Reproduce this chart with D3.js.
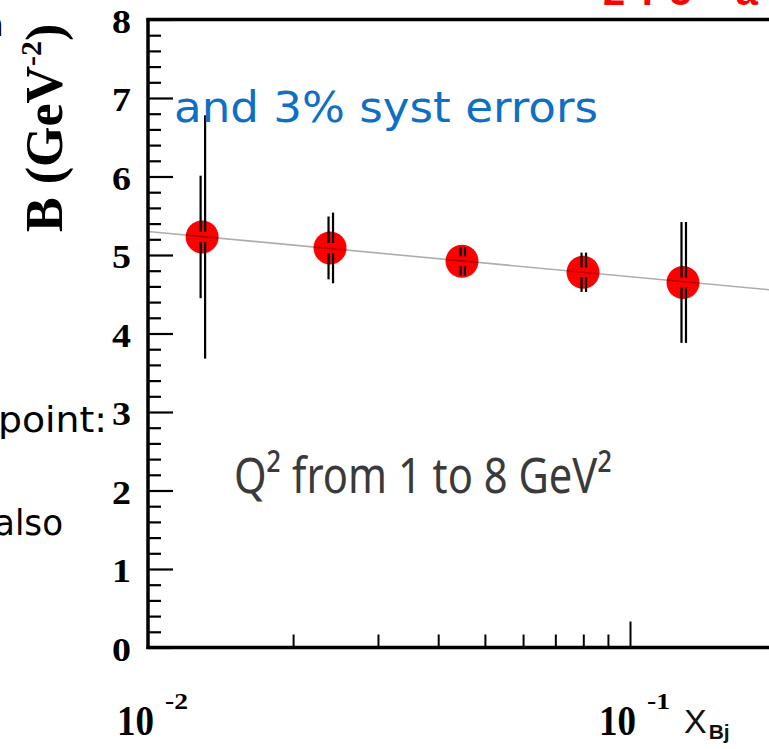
<!DOCTYPE html>
<html>
<head>
<meta charset="utf-8">
<script src="https://cdn.jsdelivr.net/npm/d3@7"></script>
<style>
  html, body { margin: 0; padding: 0; background: #fff; }
  svg { display: block; }
</style>
</head>
<body>
<svg id="chart" width="769" height="749"></svg>
<script>
// B slope parameter versus x_Bj, Q^2 from 1 to 8 GeV^2
const xBj      = [0.01295, 0.02386, 0.04482, 0.0799, 0.1288];
const bSlope   = [5.23, 5.09, 4.92, 4.78, 4.65];
const errStat  = [0.78, 0.40, 0.18, 0.25, 0.77];
const errTotal = [1.55, 0.45, 0.18, 0.25, 0.77];

// straight-line fit in log(x_Bj): end points
const fitX = [0.01, 0.25];
const fitB = [5.30, 4.495];

const yMajorTicks = [0, 1, 2, 3, 4, 5, 6, 7, 8];
const yMinorTicks = d3.range(0, 8.001, 0.2).filter(v => Math.abs(v - Math.round(v)) > 1e-6);
const xMinorTicks = [0.02, 0.03, 0.04, 0.05, 0.06, 0.07, 0.08, 0.09];
const xMajorTicks = [0.1];
const xTickBase = ["10", "10"];
const xTickExp  = ["-2", "-1"];
const xTickAt   = [0.01, 0.1];

const svg = d3.select("#chart");
const W = 769, H = 749;
svg.append("rect").attr("width", W).attr("height", H).attr("fill", "#fff");

const x = d3.scaleLog().domain([0.01, 0.1]).range([148, 630]);
const y = d3.scaleLinear().domain([0, 8]).range([647.5, 19.5]);
const x0 = x(0.01), yTop = y(8), yBot = y(0);

const serif = "Liberation Serif, Times New Roman, serif";
const sans = "Liberation Sans, Arial, sans-serif";
const slideFont = "DejaVu Sans, sans-serif";

// y axis ticks (inside, pointing right)
const yMinorAxis = d3.axisRight(y).tickValues(yMinorTicks).tickSize(13).tickFormat("");
const yMajorAxis = d3.axisRight(y).tickValues(yMajorTicks).tickSize(25).tickFormat("");
[yMinorAxis, yMajorAxis].forEach(ax => {
  const g = svg.append("g").attr("transform", `translate(${x0},0)`).call(ax);
  g.select(".domain").remove();
  g.selectAll("line").attr("stroke", "#000").attr("stroke-width", 2.2);
});

// y tick labels
svg.append("g").selectAll("text").data(yMajorTicks).join("text")
  .attr("x", 131).attr("y", d => y(d) + 13)
  .attr("text-anchor", "end")
  .attr("font-family", serif).attr("font-weight", "bold").attr("font-size", 34)
  .attr("textLength", 19).attr("lengthAdjust", "spacingAndGlyphs")
  .attr("fill", "#000")
  .text(d => d);

// x axis ticks (pointing up from the bottom frame)
const xMinorAxis = d3.axisTop(x).tickValues(xMinorTicks).tickSize(13).tickFormat("");
const xMajorAxis = d3.axisTop(x).tickValues(xMajorTicks).tickSize(26).tickFormat("");
[xMinorAxis, xMajorAxis].forEach(ax => {
  const g = svg.append("g").attr("transform", `translate(0,${yBot})`).call(ax);
  g.select(".domain").remove();
  g.selectAll("line").attr("stroke", "#000").attr("stroke-width", 2);
});

// x tick labels: 10^-2 and 10^-1
const xl = svg.append("g").selectAll("g").data(xTickAt).join("g");
xl.append("text")
  .attr("x", d => x(d) - 31).attr("y", 735)
  .attr("font-family", serif).attr("font-weight", "bold").attr("font-size", 42)
  .attr("textLength", 37).attr("lengthAdjust", "spacingAndGlyphs")
  .text((d, i) => xTickBase[i]);
xl.append("text")
  .attr("x", d => x(d) + 17).attr("y", 709)
  .attr("font-family", serif).attr("font-weight", "bold").attr("font-size", 24)
  .attr("textLength", 23).attr("lengthAdjust", "spacingAndGlyphs")
  .text((d, i) => xTickExp[i]);

// x axis title
const xt = svg.append("text").attr("x", 684).attr("y", 733)
  .attr("font-family", sans).attr("fill", "#111");
xt.append("tspan").attr("font-size", 34).text("X");
xt.append("tspan").attr("font-size", 21).attr("font-weight", "bold").attr("dy", 6).attr("dx", 2).text("Bj");

// y axis title
const yt = svg.append("text")
  .attr("transform", "translate(62,232) rotate(-90)")
  .attr("font-family", serif).attr("font-weight", "bold").attr("font-size", 52)
  .attr("fill", "#000");
yt.append("tspan").text("B (GeV");
yt.append("tspan").attr("font-size", 30).attr("dy", -21).text("-2");
yt.append("tspan").attr("dy", 21).text(")");

// fit line (drawn after markers so it darkens across them)
const fitLine = d3.line().x(d => x(d[0])).y(d => y(d[1]));

// markers
svg.append("g").selectAll("circle").data(xBj).join("circle")
  .attr("cx", d => x(d)).attr("cy", (d, i) => y(bSlope[i]))
  .attr("r", 16.5).attr("fill", "#ff0000");

svg.append("path")
  .datum(fitX.map((v, i) => [v, fitB[i]]))
  .attr("d", fitLine)
  .attr("fill", "none").attr("stroke", "#000").attr("stroke-opacity", 0.32)
  .attr("stroke-width", 1.6);

// error bars: statistical (left) and total (right), gap at the marker centre
function drawBars(errs, dx) {
  const g = svg.append("g");
  xBj.forEach((xv, i) => {
    const cx = x(xv) + dx, cy = y(bSlope[i]);
    const hi = y(bSlope[i] + errs[i]), lo = y(bSlope[i] - errs[i]);
    g.append("line").attr("x1", cx).attr("x2", cx).attr("y1", hi).attr("y2", cy - 5)
      .attr("stroke", "#000").attr("stroke-width", 2.2);
    g.append("line").attr("x1", cx).attr("x2", cx).attr("y1", cy + 5).attr("y2", lo)
      .attr("stroke", "#000").attr("stroke-width", 2.2);
  });
}
drawBars(errStat, -1.5);
drawBars(errTotal, 3);

// frame
const frame = svg.append("g").attr("stroke", "#000").attr("stroke-width", 3.5).attr("fill", "none");
frame.append("line").attr("x1", x0).attr("x2", x0).attr("y1", yTop - 1.5).attr("y2", yBot + 1.5);
frame.append("line").attr("x1", x0 - 1.5).attr("x2", W).attr("y1", yTop).attr("y2", yTop);
frame.append("line").attr("x1", x0 - 1.5).attr("x2", W).attr("y1", yBot).attr("y2", yBot);

// annotations
svg.append("text").attr("x", 174).attr("y", 122)
  .attr("font-family", slideFont).attr("font-size", 42).attr("fill", "#0f6fc4")
  .attr("textLength", 424).attr("lengthAdjust", "spacingAndGlyphs")
  .text("and 3% syst errors");

svg.append("text").attr("x", 234).attr("y", 493)
  .attr("font-family", "Noto Sans, Open Sans, sans-serif").attr("font-size", 50)
  .attr("fill", "#3a3a3a")
  .attr("textLength", 378).attr("lengthAdjust", "spacingAndGlyphs")
  .text("Q² from 1 to 8 GeV²");

// surrounding slide text
svg.append("text").attr("x", -2).attr("y", 432)
  .attr("font-family", slideFont).attr("font-size", 36).attr("fill", "#000")
  .attr("textLength", 109).attr("lengthAdjust", "spacingAndGlyphs").text("point:");
svg.append("text").attr("x", -6).attr("y", 535)
  .attr("font-family", slideFont).attr("font-size", 36).attr("fill", "#000")
  .attr("textLength", 69).attr("lengthAdjust", "spacingAndGlyphs").text("also");
svg.append("text").attr("x", 4).attr("y", 36).attr("text-anchor", "end")
  .attr("font-family", slideFont).attr("font-size", 34).attr("fill", "#000").text("a");
svg.append("text").attr("x", 603).attr("y", 5)
  .attr("font-family", sans).attr("font-weight", "bold").attr("font-size", 40).attr("fill", "#ff0000")
  .attr("textLength", 155).attr("lengthAdjust", "spacing")
  .text("2.5 a");
</script>
</body>
</html>
